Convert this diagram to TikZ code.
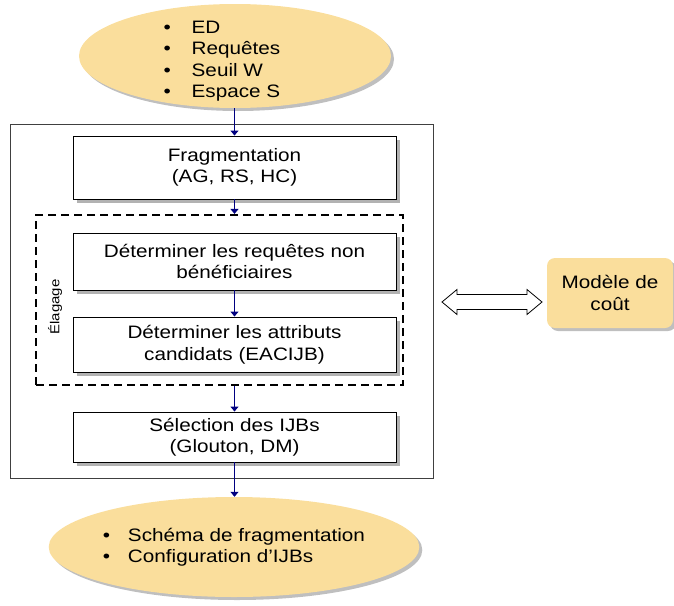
\documentclass[tikz,border=0pt]{standalone}
\usepackage{fontspec}
\setmainfont[FakeStretch=1.15]{Liberation Sans}
\usetikzlibrary{arrows.meta,shapes.geometric,shadows,calc}

\definecolor{blobfill}{RGB}{250,222,156}
\definecolor{arrblue}{RGB}{0,0,128}
\newcommand{\itm}[2][28pt]{\makebox[#1][l]{\textbullet}#2}

\begin{document}
\begin{tikzpicture}[
  x=1pt, y=-1pt,
  every node/.style={font=\fontsize{18}{21.5}\selectfont},
  stepbox/.style={draw, line width=0.9pt, fill=white, minimum width=323pt,
              align=center, inner sep=0pt,
              drop shadow={shadow xshift=4pt, shadow yshift=-4pt,
              fill=black!30, opacity=1}},
  datablob/.style={ellipse, fill=blobfill, inner sep=0pt,
              drop shadow={shadow xshift=3pt, shadow yshift=-3pt,
              fill=black!25, opacity=1}},
  arr/.style={-{Triangle[width=8pt,length=5pt]}, line width=1.1pt, arrblue},
  lbl/.style={font=\fontsize{13}{15}\selectfont},
]
\useasboundingbox (0,0) rectangle (674,605);

% outer frame
\node[draw=black!75, line width=0.9pt, minimum width=423pt,
      minimum height=354pt, inner sep=0pt] (frame) at (221.5,301) {};

% inputs
\node[datablob, minimum width=312pt, minimum height=104pt] (inp) at (235,56) {};
\node[anchor=west, align=left, inner sep=0pt] (inptxt) at (163.5,61)
  {\itm{ED}\\\itm{Requêtes}\\\itm{Seuil W}\\\itm{Espace S}};

\node[stepbox, minimum height=63pt] (frag) at (234.5,167.5) {Fragmentation\\(AG, RS, HC)};

% pruning block
\node[draw, line width=2.2pt, dash pattern=on 8pt off 5pt, minimum width=367pt,
      minimum height=170pt, inner sep=0pt] (elag) at (219.5,300) {};
\node[lbl, rotate=90] (elagtxt) at (55,307) {Élagage};

\node[stepbox, minimum height=57pt] (req) at (234.5,261.5) {Déterminer les requêtes non\\bénéficiaires};
\node[stepbox, minimum height=55pt] (attr) at (234.5,344.5) {Déterminer les attributs\\candidats (EACIJB)};

\node[stepbox, minimum height=50pt] (sel) at (234.5,437) {Sélection des IJBs\\(Glouton, DM)};

% outputs
\node[datablob, minimum width=368pt, minimum height=100pt, align=left] (out) at (234,547)
  {\itm[25pt]{Schéma de fragmentation}\\\itm[25pt]{Configuration d’IJBs}};

% cost model
\node[fill=blobfill, rounded corners=8pt, minimum width=126pt, minimum height=70pt,
      align=center, drop shadow={shadow xshift=3pt, shadow yshift=-3pt,
      fill=black!25, opacity=1}] (cost) at (610,293) {Modèle de\\coût};
\coordinate (link) at (492,302);
\draw[line width=0.8pt, fill=white] ($(link)+(-50,0)$) -- ++(15,-12.5) -- ++(0,5)
  -- ++(70,0) -- ++(0,-5) -- ++(15,12.5) -- ++(-15,12.5) -- ++(0,-5)
  -- ++(-70,0) -- ++(0,5) -- cycle;

\draw[arr] (frag.north |- inp.south) -- (frag.north);
\draw[arr] (frag.south) -- (frag.south |- elag.north);
\draw[arr] (req) -- (attr);
\draw[arr] (elag.south -| sel.north) -- (sel.north);
\draw[arr] (sel.south) -- (sel.south |- out.north);

\end{tikzpicture}
\end{document}
